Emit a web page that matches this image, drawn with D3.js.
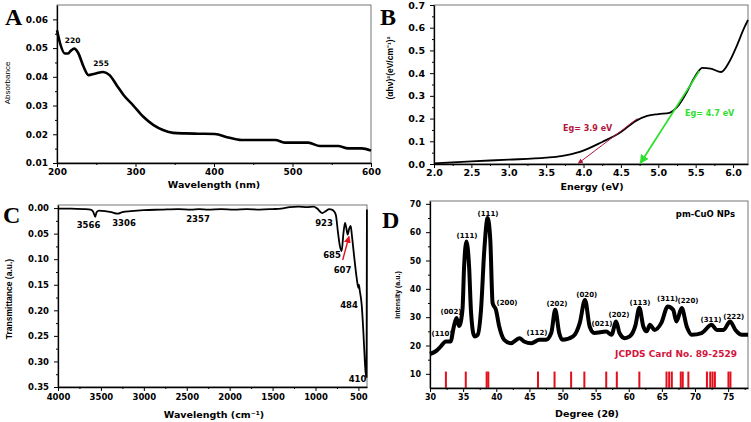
<!DOCTYPE html>
<html>
<head>
<meta charset="utf-8">
<script src="https://cdn.jsdelivr.net/npm/d3@7/dist/d3.min.js"></script>
<style>
body { margin: 0; background: #fff; }
</style>
</head>
<body>
<svg id="fig" width="751" height="422"></svg>
<script>
// Data ------------------------------- ---------- ----------
// A: UV-vis absorbance
let uvWave = [200,204,210,214,218,222,227,234,240,248,259,267,276,285,297,310,323,335,348,363,380,401,418,435,478,490,520,535,558,571,588,600];
let uvAbs  = [0.0562,0.0516,0.0481,0.0481,0.0492,0.0498,0.0483,0.0434,0.0406,0.0411,0.0417,0.0406,0.0371,0.0336,0.0301,0.0261,0.0232,0.0215,0.0205,0.0203,0.0202,0.0201,0.0189,0.018,0.018,0.0171,0.0171,0.0159,0.0159,0.0151,0.0151,0.0143];
let uvPeaks = [220, 255], uvPeakAbs = [0.0498, 0.0417];

// B: Tauc plot
let tEnergy = [2.0,2.5,3.0,3.5,3.7,3.95,4.25,4.48,4.7,4.85,5.0,5.15,5.25,5.37,5.5,5.59,5.7,5.84,5.95,6.05,6.15,6.2];
let tValue  = [0.003,0.012,0.019,0.028,0.035,0.053,0.097,0.136,0.19,0.212,0.22,0.225,0.25,0.31,0.39,0.423,0.42,0.405,0.45,0.52,0.60,0.634];
let egRed   = [[4.72,0.2],[3.93,0.003]];
let egGreen = [[5.55,0.41],[4.76,0.003]];

// C: FTIR
let irWave = [4000,3850,3700,3620,3590,3566,3550,3520,3450,3380,3306,3250,3150,3000,2800,2600,2450,2357,2250,2100,1950,1800,1650,1500,1400,1300,1200,1100,1020,980,923,880,840,811,780,761,740,715,695,675,656,640,625,607,590,575,552,520,501,495,484,462,443,425,412,405,401];
let irTrans = [0.001,0.001,0.002,0.003,0.007,0.017,0.008,0.005,0.006,0.008,0.011,0.008,0.006,0.004,0.003,0.002,0.003,0.002,0.003,0.002,0.003,0.002,0.003,0.002,0.001,-0.002,-0.003,-0.002,-0.003,0.001,0.0098,0.006,0.002,0.003,0.007,0.015,0.045,0.075,0.084,0.05,0.029,0.04,0.052,0.04,0.035,0.055,0.091,0.137,0.156,0.15,0.162,0.189,0.24,0.30,0.33,0.33,0.003];
let irLabels = ["3566","3306","2357","923","685","607","484","410"];

// D: XRD
let xrdDeg = [30,31,31.6,32.4,33.1,33.6,34.0,34.4,34.9,35.15,35.5,35.9,36.2,36.7,37.2,37.7,38.2,38.7,39.1,39.45,39.95,40.45,41.2,42.2,43.5,44.2,45.3,46.5,47.5,48.3,48.9,49.5,50.0,51.6,52.6,53.4,54.1,54.8,56.6,57.4,58.1,58.6,59.4,60.15,61.0,61.6,62.2,62.7,63.2,63.9,64.9,65.9,66.7,67.2,68.0,68.75,69.5,71.0,72.5,73.3,74.3,75.3,76.1,77.1,78];
let xrdInt = [17,18.2,19.6,21.4,21.4,26.7,29.7,26.9,32.6,47.9,56.7,47.9,31.5,23.2,23.8,32.6,53.8,65,57.3,35,32.6,26.7,22,20.8,22.6,21.4,20.8,22,22,24.4,32.6,24.4,22,23.2,27.9,36.1,26.7,24.4,24.9,23.8,28.5,24.4,22.6,23.2,27,33.3,26.7,25,27.3,25.5,27.9,33.8,32.6,28.5,33.2,26.7,23.8,24.4,27.3,25.5,25.5,28.5,25.5,23.8,23.8];
let hkl = ["(110)","(002)","(111)","(111)","(200)","(112)","(202)","(020)","(021)","(202)","(113)","(311)","(220)","(311)","(222)"];
let jcpds = [32.4,35.4,38.55,38.8,46.3,48.8,51.3,53.3,56.6,58.2,61.6,65.7,66.1,66.5,67.85,68.15,69.0,71.8,72.3,72.65,73.0,75.05,75.35];

// Tick labels
let aTicksX = [200,300,400,500,600], aTicksY = [0.01,0.02,0.03,0.04,0.05,0.06];
let bTicksX = [2.0,2.5,3.0,3.5,4.0,4.5,5.0,5.5,6.0], bTicksY = [0,0.1,0.2,0.3,0.4,0.5,0.6,0.7];
let cTicksX = [4000,3500,3000,2500,2000,1500,1000,500], cTicksY = [0,0.05,0.1,0.15,0.2,0.25,0.3,0.35];
let dTicksX = [30,35,40,45,50,55,60,65,70,75], dTicksY = [10,20,30,40,50,60,70];

// Setup ---------- ---------- ----------
let svg = d3.select("#fig");
let tickFont = "DejaVu Sans", serif = "Liberation Serif";
let red = "#e3101c", crimson = "#b3163c", green = "#2ee02e";

let defs = svg.append("defs");
[["arrRed", crimson], ["arrGreen", green], ["arrC", red]].forEach(m => {
  defs.append("marker").attr("id", m[0]).attr("viewBox", "0 0 10 10").attr("refX", 9).attr("refY", 5)
    .attr("markerWidth", 5).attr("markerHeight", 5).attr("orient", "auto")
    .append("path").attr("d", "M0,0L10,5L0,10z").attr("fill", m[1]);
});

// Draws frame + axes, returns nothing
function axes(x, y, o) {
  let [x0, x1] = x.range(), [y0, y1] = y.range();
  svg.append("rect").attr("x", Math.min(x0,x1)).attr("y", y1).attr("width", Math.abs(x1-x0)).attr("height", y0-y1)
    .attr("fill", "none").attr("stroke", "#666").attr("stroke-width", 0.9);
  // minor
  svg.append("g").attr("transform", "translate(0," + y0 + ")")
    .call(d3.axisBottom(x).tickValues(o.minX).tickSize(2).tickFormat(""))
    .call(g => g.select(".domain").remove());
  svg.append("g").attr("transform", "translate(" + x0 + ",0)")
    .call(d3.axisLeft(y).tickValues(o.minY).tickSize(2).tickFormat(""))
    .call(g => g.select(".domain").remove());
  // major
  let gx = svg.append("g").attr("transform", "translate(0," + y0 + ")")
    .call(d3.axisBottom(x).tickValues(o.tx).tickSize(4).tickPadding(o.px).tickSizeOuter(0).tickFormat(o.fx));
  let gy = svg.append("g").attr("transform", "translate(" + x0 + ",0)")
    .call(d3.axisLeft(y).tickValues(o.ty).tickSize(4).tickPadding(5).tickSizeOuter(0).tickFormat(o.fy));
  [gx, gy].forEach(g => {
    g.attr("font-family", tickFont).attr("font-weight", "bold").attr("font-size", o.fs);
    g.select(".domain").attr("stroke-width", 1.3);
    g.selectAll(".tick line").attr("stroke-width", 1);
  });
}

function label(txt, x, y, size, opt) {
  opt = opt || {};
  return svg.append("text").attr("x", x).attr("y", y).text(txt)
    .attr("font-family", opt.family || tickFont).attr("font-weight", opt.weight || "bold")
    .attr("font-size", size).attr("fill", opt.fill || "#000").attr("text-anchor", opt.anchor || "middle");
}
function vlabel(txt, x, y, size, opt) {
  opt = opt || {};
  return svg.append("text").attr("transform", "translate(" + x + "," + y + ") rotate(-90)").text(txt)
    .attr("font-family", opt.family || "Liberation Sans").attr("font-weight", opt.weight || "bold")
    .attr("font-size", size).attr("text-anchor", "middle");
}

// Panel A ---------- ---------- ----------
let xA = d3.scaleLinear().domain([200, 600]).range([57, 371]);
let yA = d3.scaleLinear().domain([0.01, 0.065]).range([163, 5]);
axes(xA, yA, {tx: aTicksX, ty: aTicksY, minX: d3.range(250, 600, 100), minY: d3.range(0.015, 0.065, 0.01),
  fx: d3.format("d"), fy: d3.format(".2f"), fs: 9, px: 2});
svg.append("path").datum(uvWave.map((w, i) => [w, uvAbs[i]]))
  .attr("d", d3.line().x(d => xA(d[0])).y(d => yA(d[1])).curve(d3.curveMonotoneX))
  .attr("fill", "none").attr("stroke", "#000").attr("stroke-width", 2.6);
uvPeaks.forEach((p, i) => label(String(p), xA(p) + (i ? 1 : 0), yA(uvPeakAbs[i]) - 6, 7.5));
label("Wavelength (nm)", 214, 188, 9.5);
vlabel("Absorbance", 10, 83, 8, {weight: "normal"});
label("A", 5, 25, 24, {family: serif, anchor: "start"});

// Panel B ---------- ---------- ----------
let xB = d3.scaleLinear().domain([2.0, 6.2]).range([434, 748]);
let yB = d3.scaleLinear().domain([0, 0.7]).range([164, 5]);
axes(xB, yB, {tx: bTicksX, ty: bTicksY, minX: d3.range(2.25, 6.2, 0.5), minY: d3.range(0.05, 0.7, 0.1),
  fx: d3.format(".1f"), fy: d3.format(".1f"), fs: 9.5, px: 1.6});
svg.append("path").datum(tEnergy.map((e, i) => [e, tValue[i]]))
  .attr("d", d3.line().x(d => xB(d[0])).y(d => yB(d[1])).curve(d3.curveMonotoneX))
  .attr("fill", "none").attr("stroke", "#000").attr("stroke-width", 1.8);
svg.append("path").datum(egRed).attr("d", d3.line().x(d => xB(d[0])).y(d => yB(d[1])))
  .attr("stroke", crimson).attr("stroke-width", 1).attr("marker-end", "url(#arrRed)");
svg.append("path").datum(egGreen).attr("d", d3.line().x(d => xB(d[0])).y(d => yB(d[1])))
  .attr("stroke", green).attr("stroke-width", 1.8).attr("marker-end", "url(#arrGreen)");
label("Eg= 3.9 eV", 563, 131, 8, {fill: crimson, anchor: "start"});
label("Eg= 4.7 eV", 685, 116, 8, {fill: green, anchor: "start"});
label("Energy (eV)", 592, 190, 9.5);
vlabel("(αhν)²(eV/cm⁻¹)²", 393, 68, 8.5);
label("B", 380, 25, 24, {family: serif, anchor: "start"});

// Panel C ---------- ---------- ----------
let xC = d3.scaleLinear().domain([4000, 400]).range([58, 367]);
let yC = d3.scaleLinear().domain([-0.006, 0.35]).range([205, 387]);
// y reversed: 0 at top, 0.35 at bottom; axes() expects range[0] = bottom
let yCax = d3.scaleLinear().domain([0.35, -0.006]).range([387, 205]);
axes(xC, yCax, {tx: cTicksX, ty: cTicksY, minX: d3.range(3750, 400, -500), minY: d3.range(0.025, 0.35, 0.05),
  fx: d3.format("d"), fy: d3.format(".2f"), fs: 8.5, px: 3});
svg.append("path").datum(irWave.map((w, i) => [w, irTrans[i]]))
  .attr("d", d3.line().x(d => xC(d[0])).y(d => yC(d[1])).curve(d3.curveMonotoneX))
  .attr("fill", "none").attr("stroke", "#000").attr("stroke-width", 1.8);
let irPos = [[88.5,228],[124,226],[198,222],[324,226],[332,258],[342.5,273],[349,308],[357.5,382]];
irLabels.forEach((t, i) => label(t, irPos[i][0], irPos[i][1], 8.5));
svg.append("line").attr("x1", 342.7).attr("y1", 260).attr("x2", 349).attr("y2", 236.5)
  .attr("stroke", red).attr("stroke-width", 1.4).attr("marker-end", "url(#arrC)");
label("Wavelength (cm⁻¹)", 214, 418, 9.5);
vlabel("Transmittance (a.u.)", 12, 299, 8.5);
label("C", 3, 223, 24, {family: serif, anchor: "start"});

// Panel D ---------- ---------- ----------
let xD = d3.scaleLinear().domain([30, 78]).range([430, 748]);
let yD = d3.scaleLinear().domain([5, 71]).range([388, 201]);
svg.selectAll(".jc").data(jcpds).enter().append("rect").attr("class", "jc")
  .attr("x", d => xD(d) - 1).attr("y", yD(10.8)).attr("width", 2).attr("height", yD(5) - yD(10.8))
  .attr("fill", red);
axes(xD, yD, {tx: dTicksX, ty: dTicksY, minX: d3.range(32.5, 78, 5), minY: d3.range(15, 71, 10),
  fx: d3.format("d"), fy: d3.format("d"), fs: 8, px: 2.3});
svg.append("path").datum(xrdDeg.map((g, i) => [g, xrdInt[i]]))
  .attr("d", d3.line().x(d => xD(d[0])).y(d => yD(d[1])).curve(d3.curveMonotoneX))
  .attr("fill", "none").attr("stroke", "#000").attr("stroke-width", 4).attr("stroke-linejoin", "round");
let hklPos = [[442,336],[451,314],[467,238],[488,216],[507,305],[537,335],[557,306],[586.7,297],[602,326],[619,317],[640,305],[667.5,301],[688,303],[711,322],[733.7,319]];
hkl.forEach((t, i) => label(t, hklPos[i][0], hklPos[i][1], 7));
label("pm-CuO NPs", 735, 217, 8.5, {anchor: "end"});
label("JCPDS Card No. 89-2529", 737, 357, 9, {anchor: "end", fill: "#d4143c"});
label("Degree (2θ)", 587, 417, 9.5);
vlabel("Intensity (a.u.)", 400, 295, 7);
label("D", 382, 228, 24, {family: serif, anchor: "start"});
</script>
</body>
</html>
